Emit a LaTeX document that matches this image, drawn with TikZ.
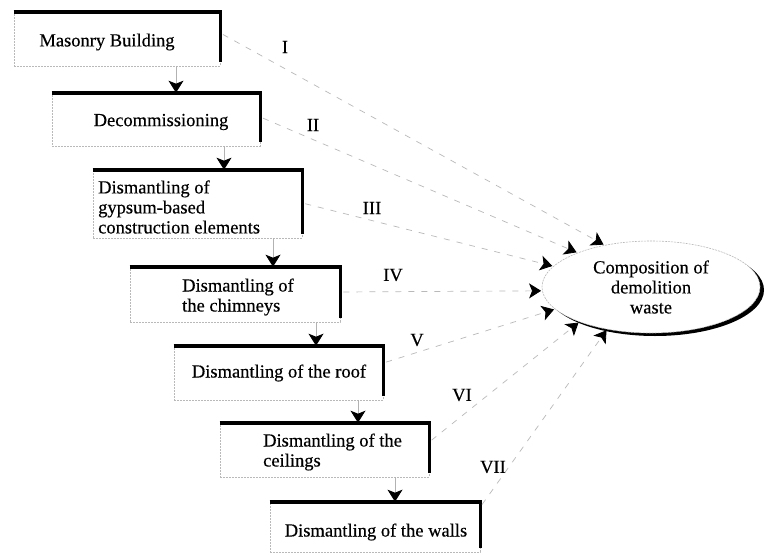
\documentclass[tikz,border=0pt]{standalone}
\usepackage{fontspec}
\setmainfont{Liberation Serif}[FakeBold=0.35]
\usetikzlibrary{arrows.meta,shapes.geometric,shadows}

\begin{document}
\begin{tikzpicture}[x=1pt,y=-1pt,
  font=\fontsize{18.5}{20}\selectfont,
  stagebox/.style={draw=gray!55, line width=0.6pt, dash pattern=on 2pt off 1pt,
                   inner sep=0pt, fill=white},
  heavy/.style={line width=3.6pt, line join=miter},
  chevron/.style={-{Stealth[length=12pt,width=15pt,inset=3pt,line width=0.8pt,color=black]}},
  flow/.style={chevron, draw=gray!60, line width=0.6pt},
  feed/.style={chevron, draw=gray!55, line width=0.7pt,
               dash pattern=on 6pt off 7pt, shorten <=3pt, shorten >=1pt},
  roman/.style={inner sep=0pt},
]
\useasboundingbox (0,0) rectangle (765,554);
\fill[white] (0,0) rectangle (765,554);

% stage boxes
\node[stagebox, minimum width=206pt, minimum height=54pt] (b1) at (117,39) {};
\node[stagebox, minimum width=208pt, minimum height=53pt] (b2) at (156,119.5) {};
\node[stagebox, minimum width=209pt, minimum height=68pt] (b3) at (197.5,204) {};
\node[stagebox, minimum width=210pt, minimum height=55pt] (b4) at (235,294.5) {};
\node[stagebox, minimum width=209pt, minimum height=54pt] (b5) at (278.5,373) {};
\node[stagebox, minimum width=209pt, minimum height=54pt] (b6) at (324.5,450) {};
\node[stagebox, minimum width=210pt, minimum height=50pt] (b7) at (375,527) {};

% heavy top and right edges of each box
\foreach \b in {b1,b2,b3,b4,b5,b6,b7}
  \draw[heavy] (\b.north west) -- (\b.north east) -- ([yshift=4pt]\b.south east);

% box texts
\node (t1) at (107,42) {Masonry Building};
\node (t2) at (161,122) {Decommissioning};
\node[anchor=west, align=left, inner sep=0pt] (t3) at (98,207)
  {Dismantling of\\gypsum-based\\construction elements};
\node[anchor=west, align=left, inner sep=0pt] (t4) at (182,297)
  {Dismantling of\\the chimneys};
\node (t5) at (279,373) {Dismantling of the roof};
\node[anchor=west, align=left, inner sep=0pt] (t6) at (263,452)
  {Dismantling of the\\ceilings};
\node (t7) at (376,532) {Dismantling of the walls};

% target ellipse with a heavy lower-right rim
\node[ellipse, draw=gray!55, line width=0.6pt, dash pattern=on 2pt off 1pt,
      fill=white, minimum width=218pt, minimum height=92pt, inner sep=0pt,
      align=center,
      general shadow={fill=black, shadow xshift=4pt, shadow yshift=-3pt}]
  (E) at (651,287) {Composition of\\demolition\\waste};

% sequence of stages
\draw[flow] ([xshift=59pt]b1.south) -- ([xshift=59pt]b1.south |- b2.north);
\draw[flow] ([xshift=68pt]b2.south) -- ([xshift=68pt]b2.south |- b3.north);
\draw[flow] ([xshift=75.5pt]b3.south) -- ([xshift=75.5pt]b3.south |- b4.north);
\draw[flow] ([xshift=81pt]b4.south) -- ([xshift=81pt]b4.south |- b5.north);
\draw[flow] ([xshift=79.5pt]b5.south) -- ([xshift=79.5pt]b5.south |- b6.north);
\draw[flow] ([xshift=70.5pt]b6.south) -- ([xshift=70.5pt]b6.south |- b7.north);

% waste flows into the composition
\draw[feed] ([yshift=6pt]b1.east)   -- (E.138.8);
\draw[feed] ([yshift=2.5pt]b2.east) -- (E.155.5);
\draw[feed] ([yshift=1pt]b3.east)   -- (E.168.5);
\draw[feed] ([yshift=2.5pt]b4.east) -- (E.182.6);
\draw[feed] ([yshift=10pt]b5.east)  -- (E.193.5);
\draw[feed] ([yshift=8pt]b6.east)   -- (E.206.9);
\draw[feed] ([yshift=20pt]b7.east)  -- (E.224.4);

% flow labels
\node[roman] (l1) at (285,47)  {I};
\node[roman] (l2) at (313,125) {II};
\node[roman] (l3) at (372,208) {III};
\node[roman] (l4) at (393,275) {IV};
\node[roman] (l5) at (417,340) {V};
\node[roman] (l6) at (462,395) {VI};
\node[roman] (l7) at (493,467) {VII};
\end{tikzpicture}
\end{document}
